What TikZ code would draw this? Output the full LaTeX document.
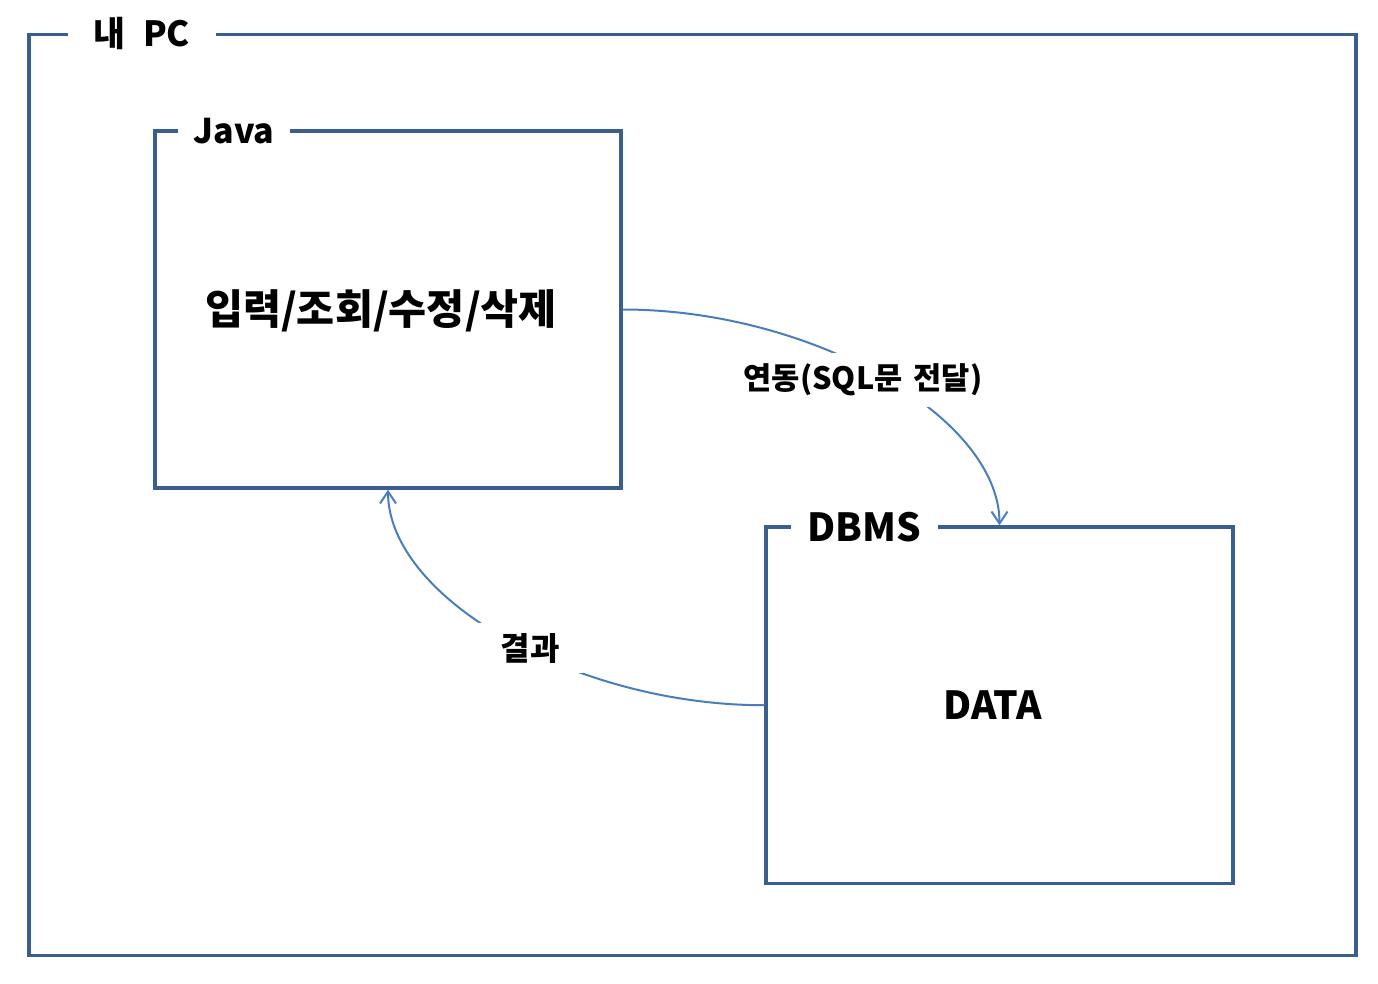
\documentclass[tikz,border=0pt]{standalone}
\usepackage{fontspec}
\setmainfont{Noto Sans CJK KR}
\usetikzlibrary{arrows.meta}
\definecolor{framecol}{HTML}{3A5F8F}
\definecolor{linkcol}{HTML}{4A7EBB}
\tikzset{
  framebox/.style={draw=framecol, line width=2.5pt, rectangle, inner sep=0pt},
  headmask/.style={fill=white, inner sep=0pt, font=\bfseries\fontsize{26pt}{30pt}\selectfont, text=black},
  bigtext/.style={font=\bfseries\fontsize{31pt}{36pt}\selectfont, text=black, inner sep=0pt},
  datatext/.style={font=\bfseries\fontsize{29pt}{34pt}\selectfont, text=black, inner sep=0pt},
  linklabel/.style={fill=white, inner sep=0pt, font=\bfseries\fontsize{23pt}{27pt}\selectfont, text=black},
  link/.style={draw=linkcol, line width=1.5pt, -{Straight Barb[length=9pt,width=12pt]}}
}
\begin{document}
\begin{tikzpicture}[x=0.75pt,y=-0.75pt]
\useasboundingbox (0,0) rectangle (1378,984);
\fill[white] (0,0) rectangle (1378,984);
% frames
\node[framebox, minimum width=995.25pt, minimum height=690.75pt] (pc) at (692.5,494.75) {};
\node[framebox, minimum width=349.5pt, minimum height=267.75pt] (java) at (388,309.5) {};
\node[framebox, minimum width=350.25pt, minimum height=267.4pt] (dbms) at (999.5,705.25) {};
% headers
\node[headmask, minimum width=111pt, minimum height=12pt] (pclabel) at (142,34) {내\hspace{7pt} PC\hspace{7.5pt}};
\node[headmask, minimum width=84pt, minimum height=12pt, font=\bfseries\fontsize{25.5pt}{30pt}\selectfont] (javalabel) at (234,131) {Java};
\node[headmask, minimum width=110.25pt, minimum height=12pt, font=\bfseries\fontsize{29pt}{34pt}\selectfont] (dbmslabel) at (864.5,527) {DBMS};
% contents
\node[bigtext] (ops) at (381,311) {입력/조회/수정/삭제};
\node[datatext] (data) at (992.5,705) {DATA};
% connectors
\draw[link] (java.east) .. controls +(189,0) and +(0,-108.5) .. (dbms.north);
\draw[link] (dbms.west) .. controls +(-189,0) and +(0,108.5) .. (java.south);
% connector labels
\node[linklabel, minimum width=190pt, minimum height=40.5pt] (sqllabel) at (863,380) {연동(SQL문\hspace{3pt} 전달)};
\node[linklabel, minimum width=80pt, minimum height=38pt, font=\bfseries\fontsize{24pt}{28pt}\selectfont] (reslabel) at (530,648) {결과};
\end{tikzpicture}
\end{document}
